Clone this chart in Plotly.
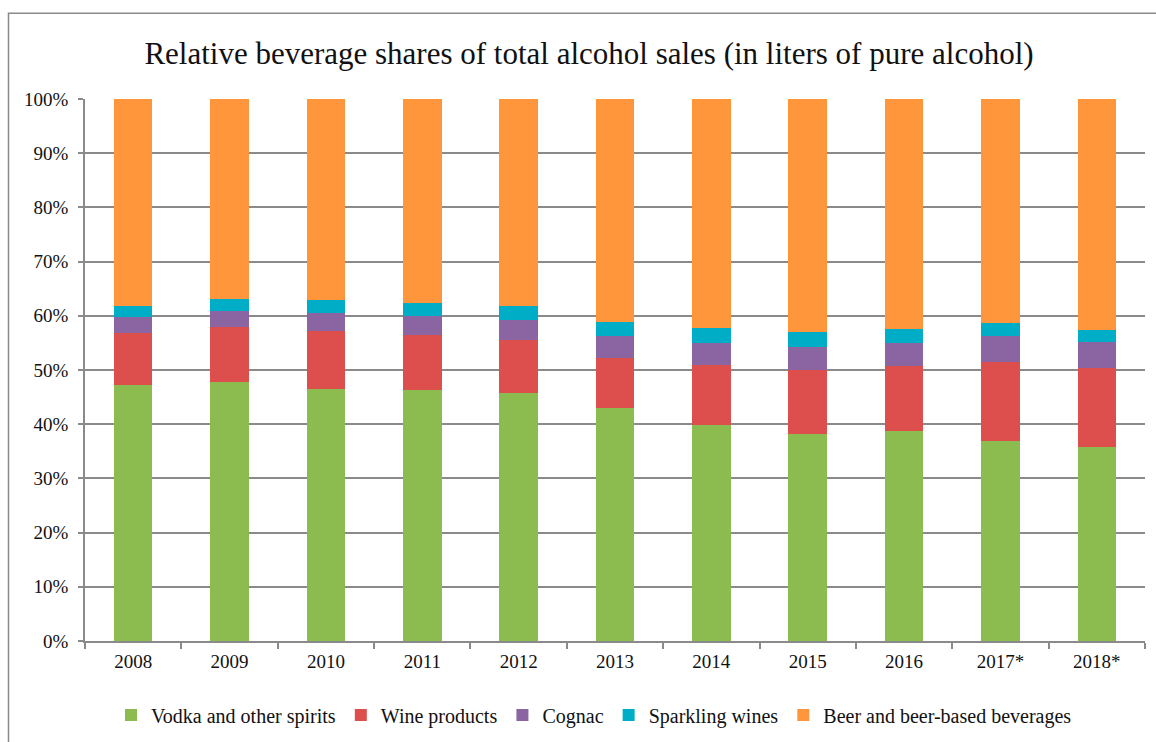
import plotly.graph_objects as go

years = ["2008", "2009", "2010", "2011", "2012", "2013", "2014", "2015", "2016", "2017*", "2018*"]

vodka = [47.3, 47.7, 46.5, 46.4, 45.8, 43.0, 39.8, 38.2, 38.8, 36.9, 35.8]
wine = [9.6, 10.2, 10.7, 10.0, 9.8, 9.3, 11.2, 11.8, 12.0, 14.6, 14.5]
cognac = [2.9, 3.0, 3.3, 3.5, 3.7, 3.9, 4.0, 4.2, 4.1, 4.8, 4.9]
sparkling = [2.1, 2.2, 2.5, 2.4, 2.5, 2.6, 2.8, 2.8, 2.6, 2.3, 2.2]
beer = [38.1, 36.9, 37.0, 37.7, 38.2, 41.2, 42.2, 43.0, 42.5, 41.4, 42.6]

series = [
    ("Vodka and other spirits", vodka, "#8CBB4F"),
    ("Wine products", wine, "#DD4F4C"),
    ("Cognac", cognac, "#8B64A2"),
    ("Sparkling wines", sparkling, "#00ADC6"),
    ("Beer and beer-based beverages", beer, "#FF963B"),
]

W, H = 1156, 742
L, R, T, B = 85, 1145, 99, 641
FONT = "Liberation Serif"
TXT = "#111111"

fig = go.Figure()
for name, vals, color in series:
    fig.add_trace(go.Bar(
        x=years, y=vals, name=name,
        marker=dict(color=color, line=dict(width=0)),
        hovertemplate="%{x}: %{y:.1f}%<extra>" + name + "</extra>",
    ))


def px_x(p):
    return (p - L) / (R - L)


def px_y(p):
    return (B - p) / (B - T)


fig.update_layout(
    width=W, height=H,
    margin=dict(l=L, r=W - R, t=T, b=H - B),
    paper_bgcolor="white", plot_bgcolor="white",
    barmode="stack", barnorm="percent", bargap=0.6,
    font=dict(family=FONT, color=TXT, size=19),
    title=dict(
        text="Relative beverage shares of total alcohol sales (in liters of pure alcohol)",
        font=dict(family=FONT, size=31, color=TXT),
        x=589 / W, xanchor="center", xref="container",
        y=1 - 53 / H, yanchor="middle", yref="container",
    ),
    xaxis=dict(
        type="category", tickson="boundaries", ticks="outside", ticklen=6,
        tickcolor="#8a8a8a", tickwidth=1.5,
        showline=True, linecolor="#8a8a8a", linewidth=1.5,
        showgrid=False, tickfont=dict(family=FONT, size=19, color=TXT),
        ticklabelstandoff=2,
    ),
    yaxis=dict(
        range=[0, 100], tickvals=list(range(0, 101, 10)),
        ticktext=[f"{v}%" for v in range(0, 101, 10)],
        ticks="outside", ticklen=5, tickcolor="#8a8a8a", tickwidth=1.5,
        showline=True, linecolor="#8a8a8a", linewidth=1.5,
        showgrid=True, gridcolor="#8a8a8a", gridwidth=1.5,
        zeroline=False, tickfont=dict(family=FONT, size=19, color=TXT),
        ticklabelstandoff=6,
    ),
    legend=dict(
        orientation="h", x=594 / W, xanchor="center", xref="container",
        y=1 - 715 / H, yanchor="middle", yref="container",
        font=dict(family=FONT, size=20, color=TXT), itemwidth=30,
        traceorder="normal",
    ),
    shapes=[dict(
        type="rect", xref="paper", yref="paper",
        x0=px_x(8.5), x1=px_x(1170), y0=px_y(760), y1=px_y(13.3),
        line=dict(color="#8a8a8a", width=1.5), layer="below",
    )],
)

fig.write_html("out.html")
